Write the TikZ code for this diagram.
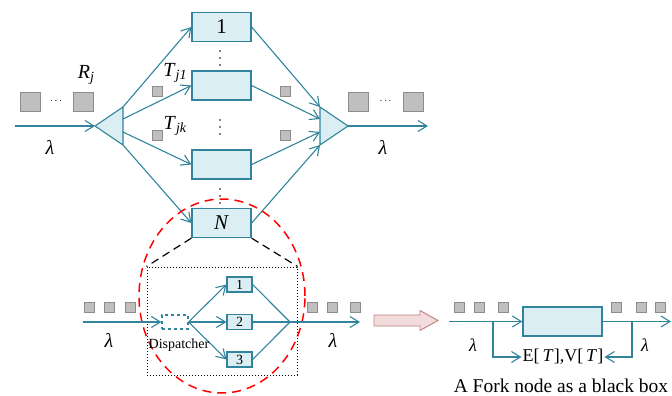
\documentclass[tikz,border=0pt]{standalone}
\usepackage{fontspec}
\setmainfont{Liberation Serif}
\usetikzlibrary{arrows.meta}
\definecolor{teal1}{HTML}{31849B}
\definecolor{boxfill}{HTML}{DAEEF3}
\definecolor{qfill}{HTML}{BFBFBF}
\definecolor{qline}{HTML}{8C8C8C}
\definecolor{pinkfill}{HTML}{F2DCDB}
\definecolor{pinkline}{HTML}{C0807E}
\tikzset{
  flow/.style={draw=teal1, line width=1.1pt, -{Straight Barb[length=9pt,width=11pt,line width=1.1pt]}},
  plain/.style={draw=teal1, line width=1.1pt},
  bigbox/.style={draw=teal1, fill=boxfill, line width=1.3pt, minimum width=59pt, minimum height=29pt, inner sep=0pt, font=\fontsize{21}{24}\selectfont},
  smallbox/.style={draw=teal1, fill=boxfill, line width=1.1pt, minimum width=25pt, minimum height=15pt, inner sep=0pt, font=\fontsize{14}{16}\selectfont},
  qbig/.style={draw=qline, fill=qfill, line width=1pt, minimum width=20pt, minimum height=19pt, inner sep=0pt},
  qsmall/.style={draw=qline, fill=qfill, line width=0.8pt, minimum width=10pt, minimum height=10pt, inner sep=0pt},
  tri/.style={draw=teal1, fill=boxfill, line width=1.1pt, line join=round},
  lbl/.style={inner sep=0pt, font=\fontsize{20}{22}\selectfont},
  dotmark/.style={circle, fill=black, inner sep=0pt, minimum size=1.8pt},
}
\begin{document}
\begin{tikzpicture}[x=1pt,y=-1pt]
\useasboundingbox (0,0) rectangle (672,396);

% ---------- fork network ----------
\node[bigbox] (b1) at (221.5,27) {1};
\node[bigbox] (b2) at (221.5,85.5) {};
\node[bigbox] (b3) at (221.5,164.5) {};
\node[bigbox] (bN) at (221.5,223) {\textit{N}};

% vertical ellipses between the servers
\foreach \y/\n in {51/a1,58/a2,65/a3,120/b1,127/b2,134/b3,189/c1,196/c2,203/c3}
  \node[dotmark] (dot\n) at (220,\y) {};

% fork and join triangles
\coordinate (fa) at (95,126);
\coordinate (ft) at (123,107);
\coordinate (fb) at (123,145);
\coordinate (ja) at (348,126);
\coordinate (jt) at (320,107);
\coordinate (jb) at (320,145);
\draw[tri] (fa) -- (ft) -- (fb) -- cycle;
\draw[tri] (ja) -- (jt) -- (jb) -- cycle;

\coordinate (f1) at (123,107);
\coordinate (f2) at (123,119);
\coordinate (f3) at (123,132);
\coordinate (f4) at (123,145);
\coordinate (j1) at (320,107);
\coordinate (j2) at (320,119);
\coordinate (j3) at (320,132);
\coordinate (j4) at (320,145);

\draw[flow] (f1) -- (b1.west);
\draw[flow] (f2) -- (b2.west);
\draw[flow] (f3) -- (b3.west);
\draw[flow] (f4) -- (bN.west);
\draw[flow] (b1.east) -- (j1);
\draw[flow] (b2.east) -- (j2);
\draw[flow] (b3.east) -- (j3);
\draw[flow] (bN.east) -- (j4);

\coordinate (in0) at (15,126);
\coordinate (out0) at (428,126);
\draw[flow] (in0) -- (fa);
\draw[flow] (ja) -- (out0);

% queues
\node[qbig] (qa) at (30,101.5) {};
\node[qbig] (qb) at (83,101.5) {};
\node[inner sep=0pt] (qdots) at (56,101) {$\cdots$};
\node[qbig] (qc) at (358,101.5) {};
\node[qbig] (qd) at (413,101.5) {};
\node[inner sep=0pt] (qdots2) at (385.5,101) {$\cdots$};

\node[qsmall] (s1) at (157,91) {};
\node[qsmall] (s2) at (157,135) {};
\node[qsmall] (s3) at (285,91) {};
\node[qsmall] (s4) at (285,135) {};

\node[lbl] (Rj) at (86,75) {\textit{R}\raisebox{-0.35ex}{\fontsize{14}{14}\selectfont\textit{j}}};
\node[lbl] (Tj1) at (175,73) {\textit{T}\raisebox{-0.35ex}{\fontsize{14}{14}\selectfont\textit{j1}}};
\node[lbl] (Tjk) at (175,126) {\textit{T}\raisebox{-0.35ex}{\fontsize{14}{14}\selectfont\textit{jk}}};
\node[lbl] (lam1) at (50,147) {\textit{λ}};
\node[lbl] (lam2) at (383,147) {\textit{λ}};

% ---------- zoomed fork node ----------
\draw[red, line width=1.5pt, dash pattern=on 9pt off 6pt] (222,296) ellipse [x radius=83pt, y radius=97pt];

\node[draw, dotted, line width=1pt, minimum width=150pt, minimum height=108pt, inner sep=0pt] (dbox) at (222,321) {};
\draw[line width=1.2pt, dash pattern=on 8pt off 5pt] (bN.south west) -- (dbox.north west);
\draw[line width=1.2pt, dash pattern=on 8pt off 5pt] (bN.south east) -- (dbox.north east);

\node[draw=teal1, dashed, line width=1.1pt, fill=white, minimum width=26pt, minimum height=14pt, inner sep=0pt] (disp) at (175,322) {};
\node[smallbox] (c1) at (239.5,284.5) {1};
\node[smallbox] (c2) at (239.5,322) {2};
\node[smallbox] (c3) at (239.5,359.5) {3};
\coordinate (join) at (290,322);
\coordinate (in1) at (83,322);
\coordinate (out1) at (360,322);

\draw[flow] (in1) -- (disp.west);
\draw[flow] (disp.east) -- (c1.west);
\draw[flow] (disp.east) -- (c2.west);
\draw[flow] (disp.east) -- (c3.west);
\draw[plain] (c1.east) -- (join);
\draw[plain] (c2.east) -- (join);
\draw[plain] (c3.east) -- (join);
\draw[flow] (join) -- (out1);

\node[qsmall] (u1) at (89,307) {};
\node[qsmall] (u2) at (109,307) {};
\node[qsmall] (u3) at (130,307) {};
\node[qsmall] (u4) at (312,307) {};
\node[qsmall] (u5) at (332,307) {};
\node[qsmall] (u6) at (355,307) {};

\node[lbl] (lam3) at (109,340) {\textit{λ}};
\node[lbl] (lam4) at (333,340) {\textit{λ}};
\node[inner sep=0pt, font=\fontsize{14}{15}\selectfont] (dlabel) at (179,345) {Dispatcher};

% ---------- transition arrow ----------
\draw[draw=pinkline, fill=pinkfill, line width=0.9pt, line join=miter]
  (374,315) -- (420,315) -- (420,310.5) -- (438,320.5) -- (420,330.5) -- (420,326) -- (374,326) -- cycle;

% ---------- black box ----------
\node[bigbox, minimum width=79pt] (bb) at (562.5,321.5) {};
\coordinate (in2) at (449,321.5);
\coordinate (out2) at (671,321.5);
\coordinate (tapL) at (493,321.5);
\coordinate (tapR) at (632,321.5);
\draw[flow] (in2) -- (bb.west);
\draw[flow] (bb.east) -- (out2);

\node[inner sep=1pt, font=\fontsize{18}{20}\selectfont] (ev) at (563,357) {E[\,\textit{T}],V[\,\textit{T}]};
\draw[flow] (tapL) |- (ev.west);
\draw[flow] (tapR) |- (ev.east);

\node[qsmall] (v1) at (459,307) {};
\node[qsmall] (v2) at (479,307) {};
\node[qsmall] (v3) at (503,307) {};
\node[qsmall] (v4) at (616,307) {};
\node[qsmall] (v5) at (641,307) {};
\node[qsmall] (v6) at (660,307) {};

\node[lbl, font=\fontsize{18}{20}\selectfont] (lam5) at (473,345) {\textit{λ}};
\node[lbl, font=\fontsize{18}{20}\selectfont] (lam6) at (645,345) {\textit{λ}};

\node[anchor=base, inner sep=0pt, font=\fontsize{19.5}{21}\selectfont] (cap) at (561,392) {A Fork node as a black box};
\end{tikzpicture}
\end{document}
